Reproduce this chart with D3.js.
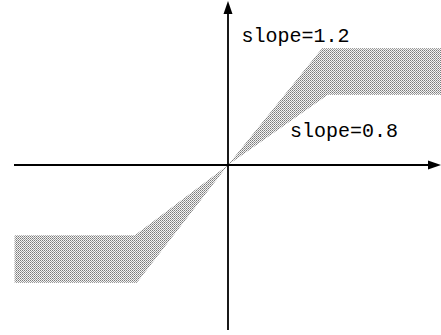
<!DOCTYPE html>
<html>
<head>
<meta charset="utf-8">
<script src="https://cdn.jsdelivr.net/npm/d3@7"></script>
<style>
  body { margin: 0; background: #fff; }
  svg { display: block; }
</style>
</head>
<body>
<svg id="chart" width="441" height="335"></svg>
<script>
// edge with slope 1.2 (saturates at the wider level)
var steepLine = [[-2.2, -1.24], [-0.94, -1.24], [0, 0], [0.97, 1.23], [2.2, 1.23]];
// edge with slope 0.8 (saturates at the narrower level)
var flatLine = [[-2.2, -0.74], [-0.96, -0.74], [0, 0], [1.03, 0.74], [2.2, 0.74]];
var labels = [
  { text: 'slope=1.2', x: 0.14, y: 1.3 },
  { text: 'slope=0.8', x: 0.64, y: 0.3 }
];

var svg = d3.select('#chart');

var x = d3.scaleLinear().domain([-2.2, 2.2]).range([14.6, 441.4]);
var y = d3.scaleLinear().domain([-1.74, 1.74]).range([330.3, -0.3]);

var pat = svg.append('defs').append('pattern')
  .attr('id', 'dots')
  .attr('patternUnits', 'userSpaceOnUse')
  .attr('width', 2)
  .attr('height', 2);
pat.append('rect').attr('width', 2).attr('height', 2).attr('fill', '#f4f4f4');
pat.append('rect').attr('x', 0).attr('y', 0).attr('width', 1).attr('height', 1).attr('fill', '#7a7a7a');
pat.append('rect').attr('x', 1).attr('y', 1).attr('width', 1).attr('height', 1).attr('fill', '#9c9c9c');

var band = steepLine.concat(flatLine.slice().reverse());
var line = d3.line().x(d => x(d[0])).y(d => y(d[1]));

svg.append('path')
  .attr('d', line(band) + 'Z')
  .attr('fill', 'url(#dots)')
  .attr('stroke', 'none');

// axes with arrow heads
var ox = Math.round(x(0)), oy = Math.round(y(0));
svg.append('line')
  .attr('x1', 14).attr('x2', 432)
  .attr('y1', oy).attr('y2', oy)
  .attr('stroke', '#000').attr('stroke-width', 1.8);
svg.append('line')
  .attr('x1', ox).attr('x2', ox)
  .attr('y1', 12).attr('y2', 330)
  .attr('stroke', '#000').attr('stroke-width', 1.8);

svg.append('path')
  .attr('d', `M441,${oy} L428,${oy - 4.5} L428,${oy + 4.5} Z`)
  .attr('fill', '#000');
svg.append('path')
  .attr('d', `M${ox},1 L${ox - 4.5},14 L${ox + 4.5},14 Z`)
  .attr('fill', '#000');

svg.selectAll('.lbl')
  .data(labels)
  .enter()
  .append('text')
  .attr('class', 'lbl')
  .attr('x', d => x(d.x))
  .attr('y', d => y(d.y))
  .attr('font-family', '"Liberation Mono", monospace')
  .attr('font-size', 20)
  .attr('fill', '#000')
  .text(d => d.text);
</script>
</body>
</html>
